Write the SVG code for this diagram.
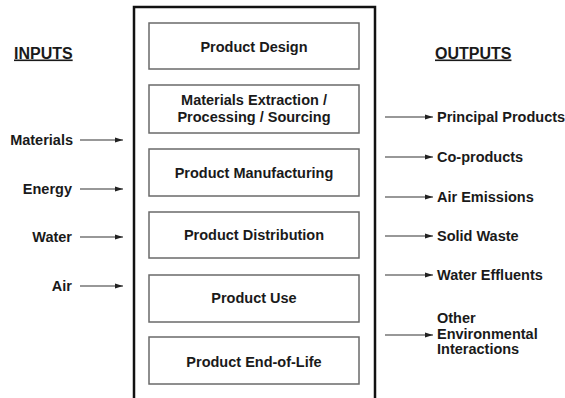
<svg xmlns="http://www.w3.org/2000/svg" width="565" height="398" viewBox="0 0 565 398">
<style>
text{font-family:"Liberation Sans",Arial,sans-serif;font-weight:bold;font-size:14.5px;fill:#1a1a1a}
.hdr{font-size:16px;text-decoration:underline}
.box rect{fill:#fff;stroke:#6a6a6a;stroke-width:1.5}
.box text{text-anchor:middle}
.in{text-anchor:end}
#connectors line{stroke:#333;stroke-width:1.2;marker-end:url(#ah)}
</style>
<defs>
<marker id="ah" viewBox="0 0 8 6" refX="8" refY="3" markerWidth="8" markerHeight="6" markerUnits="userSpaceOnUse" orient="auto">
<path d="M0 0.5 L8 3 L0 5.5 Z" fill="#222"/>
</marker>
</defs>
<rect width="565" height="398" fill="#fff"/>
<path id="frame" d="M134 402 V7 H375 V402" fill="none" stroke="#111" stroke-width="2.5"/>
<text class="hdr" x="14" y="58.5">INPUTS</text>
<text class="hdr" x="435" y="58.5">OUTPUTS</text>
<g id="n1" class="box"><rect x="149" y="23" width="210" height="46"/><text x="254" y="52">Product Design</text></g>
<g id="n2" class="box"><rect x="149" y="85" width="210" height="48"/><text x="254" y="105">Materials Extraction /</text><text x="254" y="122">Processing / Sourcing</text></g>
<g id="n3" class="box"><rect x="149" y="149" width="210" height="47"/><text x="254" y="178">Product Manufacturing</text></g>
<g id="n4" class="box"><rect x="149" y="212" width="210" height="46"/><text x="254" y="240">Product Distribution</text></g>
<g id="n5" class="box"><rect x="149" y="275" width="210" height="47"/><text x="254" y="303">Product Use</text></g>
<g id="n6" class="box"><rect x="149" y="337" width="210" height="47"/><text x="254" y="367">Product End-of-Life</text></g>
<g id="inputs">
<text class="in" x="73" y="145">Materials</text>
<text class="in" x="72" y="194">Energy</text>
<text class="in" x="72" y="242">Water</text>
<text class="in" x="72" y="291">Air</text>
</g>
<g id="outputs">
<text x="437" y="122">Principal Products</text>
<text x="437" y="162">Co-products</text>
<text x="437" y="202">Air Emissions</text>
<text x="437" y="241">Solid Waste</text>
<text x="437" y="280">Water Effluents</text>
<text x="437" y="323">Other</text>
<text x="437" y="339">Environmental</text>
<text x="437" y="354">Interactions</text>
</g>
<g id="connectors">
<line x1="80" y1="140" x2="123" y2="140"/>
<line x1="80" y1="189" x2="123" y2="189"/>
<line x1="80" y1="237" x2="123" y2="237"/>
<line x1="80" y1="286" x2="123" y2="286"/>
<line x1="385" y1="117" x2="433" y2="117"/>
<line x1="385" y1="157" x2="433" y2="157"/>
<line x1="385" y1="197" x2="433" y2="197"/>
<line x1="385" y1="236" x2="433" y2="236"/>
<line x1="385" y1="275" x2="433" y2="275"/>
<line x1="385" y1="335" x2="433" y2="335"/>
</g>
</svg>
